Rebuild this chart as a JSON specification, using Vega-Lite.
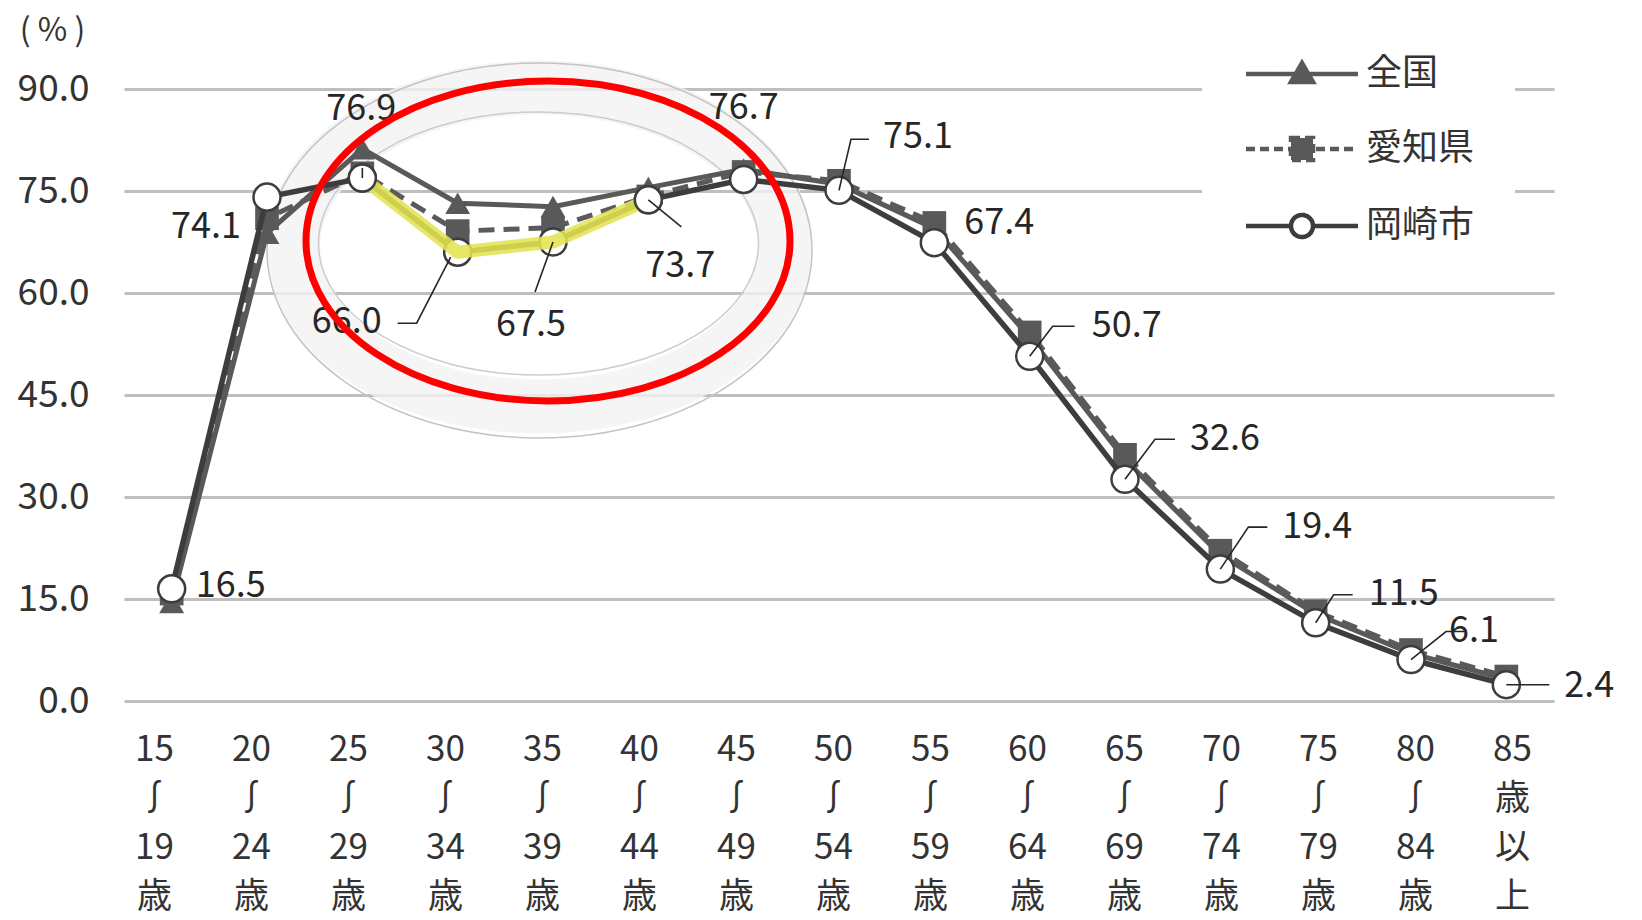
{
  "$schema": "https://vega.github.io/schema/vega-lite/v6.json",
  "autosize": {"type": "none"},
  "padding": {"left": 124, "top": 89, "right": 88, "bottom": 219},
  "width": 1430,
  "height": 612,
  "background": "white",
  "config": {
    "font": "Noto Sans CJK JP",
    "view": {"stroke": null},
    "axis": {"labelFont": "Noto Sans CJK JP", "titleFont": "Noto Sans CJK JP", "labelColor": "#333333", "domain": false, "ticks": false}
  },
  "data": {"values": [
    {"age": "15〜19歳", "series": "全国", "value": 14.5},
    {"age": "20〜24歳", "series": "全国", "value": 68.8},
    {"age": "25〜29歳", "series": "全国", "value": 81.2},
    {"age": "30〜34歳", "series": "全国", "value": 73.2},
    {"age": "35〜39歳", "series": "全国", "value": 72.7},
    {"age": "40〜44歳", "series": "全国", "value": 75.5},
    {"age": "45〜49歳", "series": "全国", "value": 78.2},
    {"age": "50〜54歳", "series": "全国", "value": 76.0},
    {"age": "55〜59歳", "series": "全国", "value": 69.5},
    {"age": "60〜64歳", "series": "全国", "value": 53.5},
    {"age": "65〜69歳", "series": "全国", "value": 35.5},
    {"age": "70〜74歳", "series": "全国", "value": 21.5},
    {"age": "75〜79歳", "series": "全国", "value": 12.8},
    {"age": "80〜84歳", "series": "全国", "value": 7.0},
    {"age": "85歳以上", "series": "全国", "value": 3.2},
    {"age": "15〜19歳", "series": "愛知県", "value": 15.8},
    {"age": "20〜24歳", "series": "愛知県", "value": 71.0},
    {"age": "25〜29歳", "series": "愛知県", "value": 77.6},
    {"age": "30〜34歳", "series": "愛知県", "value": 69.1},
    {"age": "35〜39歳", "series": "愛知県", "value": 69.6},
    {"age": "40〜44歳", "series": "愛知県", "value": 74.2},
    {"age": "45〜49歳", "series": "愛知県", "value": 77.8},
    {"age": "50〜54歳", "series": "愛知県", "value": 76.5},
    {"age": "55〜59歳", "series": "愛知県", "value": 70.3},
    {"age": "60〜64歳", "series": "愛知県", "value": 54.2},
    {"age": "65〜69歳", "series": "愛知県", "value": 36.2},
    {"age": "70〜74歳", "series": "愛知県", "value": 22.1},
    {"age": "75〜79歳", "series": "愛知県", "value": 13.2},
    {"age": "80〜84歳", "series": "愛知県", "value": 7.5},
    {"age": "85歳以上", "series": "愛知県", "value": 3.6},
    {"age": "15〜19歳", "series": "岡崎市", "value": 16.5},
    {"age": "20〜24歳", "series": "岡崎市", "value": 74.1},
    {"age": "25〜29歳", "series": "岡崎市", "value": 76.9},
    {"age": "30〜34歳", "series": "岡崎市", "value": 66.0},
    {"age": "35〜39歳", "series": "岡崎市", "value": 67.5},
    {"age": "40〜44歳", "series": "岡崎市", "value": 73.7},
    {"age": "45〜49歳", "series": "岡崎市", "value": 76.7},
    {"age": "50〜54歳", "series": "岡崎市", "value": 75.1},
    {"age": "55〜59歳", "series": "岡崎市", "value": 67.4},
    {"age": "60〜64歳", "series": "岡崎市", "value": 50.7},
    {"age": "65〜69歳", "series": "岡崎市", "value": 32.6},
    {"age": "70〜74歳", "series": "岡崎市", "value": 19.4},
    {"age": "75〜79歳", "series": "岡崎市", "value": 11.5},
    {"age": "80〜84歳", "series": "岡崎市", "value": 6.1},
    {"age": "85歳以上", "series": "岡崎市", "value": 2.4}
  ]},
  "encoding": {
    "y": {
      "field": "value", "type": "quantitative",
      "scale": {"domain": [0, 90], "nice": false, "zero": true},
      "axis": {
        "values": [0, 15, 30, 45, 60, 75, 90], "format": ".1f",
        "grid": true, "gridColor": "#bfbfbf", "gridWidth": 3,
        "labelFontSize": 37, "labelPadding": 35,
        "title": "( % )", "titleAngle": 0, "titleX": -72, "titleY": -59,
        "titleAlign": "center", "titleBaseline": "middle",
        "titleFontSize": 32, "titleFontWeight": "normal", "titleColor": "#333333"
      }
    }
  },
  "resolve": {"scale": {"x": "independent"}},
  "layer": [
    {
      "encoding": {
        "x": {
          "field": "age", "type": "ordinal",
          "scale": {"type": "point", "padding": 0.5, "domain": ["15〜19歳","20〜24歳","25〜29歳","30〜34歳","35〜39歳","40〜44歳","45〜49歳","50〜54歳","55〜59歳","60〜64歳","65〜69歳","70〜74歳","75〜79歳","80〜84歳","85歳以上"]},
          "axis": null
        }
      },
      "layer": [
        {
          "transform": [{"filter": "datum.series == '岡崎市' && datum.age == '35〜39歳'"}],
          "mark": {"type": "point", "shape": "M2.46,0C2.46,0.881 1.359,1.595 0,1.595C-1.359,1.595 -2.46,0.881 -2.46,0C-2.46,-0.881 -1.359,-1.595 0,-1.595C1.359,-1.595 2.46,-0.881 2.46,0Z", "size": 40000, "filled": false, "stroke": "#f3f3f3", "strokeWidth": 54, "opacity": 0.8, "xOffset": -14, "yOffset": 5}
        },
        {
          "transform": [{"filter": "datum.series == '岡崎市' && datum.age == '35〜39歳'"}],
          "mark": {"type": "point", "shape": "M2.725,0C2.725,1.036 1.505,1.875 0,1.875C-1.505,1.875 -2.725,1.036 -2.725,0C-2.725,-1.036 -1.505,-1.875 0,-1.875C1.505,-1.875 2.725,-1.036 2.725,0Z", "size": 40000, "filled": false, "stroke": "#c4c4c4", "strokeWidth": 1.5, "opacity": 1, "xOffset": -13.5, "yOffset": 8.5}
        },
        {
          "transform": [{"filter": "datum.series == '岡崎市' && datum.age == '35〜39歳'"}],
          "mark": {"type": "point", "shape": "M2.2,0C2.2,0.726 1.215,1.315 0,1.315C-1.215,1.315 -2.2,0.726 -2.2,0C-2.2,-0.726 -1.215,-1.315 0,-1.315C1.215,-1.315 2.2,-0.726 2.2,0Z", "size": 40000, "filled": false, "stroke": "#cccccc", "strokeWidth": 1.5, "opacity": 1, "xOffset": -14.5, "yOffset": 1.5}
        },
        {
          "transform": [{"filter": "datum.series == '全国'"}],
          "mark": {"type": "line", "color": "#595959", "strokeWidth": 5}
        },
        {
          "transform": [{"filter": "datum.series == '全国'"}],
          "mark": {"type": "point", "shape": "triangle-up", "filled": true, "color": "#595959", "size": 620, "opacity": 1}
        },
        {
          "transform": [{"filter": "datum.series == '愛知県'"}],
          "mark": {"type": "line", "color": "#5a5a5a", "strokeWidth": 5, "strokeDash": [16, 9]}
        },
        {
          "transform": [{"filter": "datum.series == '愛知県'"}],
          "mark": {"type": "point", "shape": "square", "filled": true, "color": "#595959", "size": 560, "opacity": 1}
        },
        {
          "transform": [{"filter": "datum.series == '岡崎市'"}],
          "mark": {"type": "line", "color": "#3d3d3d", "strokeWidth": 5.5}
        },
        {
          "transform": [{"filter": "datum.series == '岡崎市'"}],
          "mark": {"type": "point", "shape": "circle", "filled": true, "fill": "#ffffff", "stroke": "#3d3d3d", "strokeWidth": 2.5, "size": 730, "opacity": 1}
        },
        {
          "transform": [{"filter": "datum.series == '岡崎市' && indexof(['25〜29歳','30〜34歳','35〜39歳','40〜44歳'], datum.age) >= 0"}],
          "mark": {"type": "line", "color": "#e3e352", "strokeWidth": 13, "opacity": 0.88, "strokeCap": "round", "strokeJoin": "round"}
        },
        {
          "transform": [{"filter": "datum.series == '岡崎市' && (datum.age == '25〜29歳' || datum.age == '40〜44歳')"}],
          "mark": {"type": "point", "shape": "circle", "filled": true, "fill": "#ffffff", "stroke": "#3d3d3d", "strokeWidth": 2.5, "size": 730, "opacity": 1}
        },
        {
          "transform": [{"filter": "datum.series == '岡崎市' && indexof(['25〜29歳','30〜34歳','35〜39歳','40〜44歳','50〜54歳','60〜64歳','65〜69歳','70〜74歳','75〜79歳','80〜84歳','85歳以上'], datum.age) >= 0"}],
          "mark": {
            "type": "point", "filled": false, "stroke": "#262626", "strokeWidth": 1.6, "size": 400, "opacity": 1,
            "shape": {"expr": "['M0,0','M0,0','M0,0V-1','M-0.7,0.5L-4.1,7.1H-6','M0,0L-1.8,5','M0,0L3.3,2.7','M0,0','M0,0L1.2,-5.1H3','M0,0','M0,0L2.3,-3H4.5','M0,0L3,-4H5','M0,0L2.8,-4.2H4.7','M0,0L1.8,-2.8H3.7','M0,0L3.5,-2.8H5.3','M0,0H4.3'][indexof(['15〜19歳','20〜24歳','25〜29歳','30〜34歳','35〜39歳','40〜44歳','45〜49歳','50〜54歳','55〜59歳','60〜64歳','65〜69歳','70〜74歳','75〜79歳','80〜84歳','85歳以上'], datum.age)]"}
          }
        },
        {
          "transform": [{"filter": "datum.series == '岡崎市'"}],
          "mark": {
            "type": "text", "font": "Noto Sans CJK JP", "fontSize": 36, "color": "#262626", "align": "center", "baseline": "middle",
            "dx": {"expr": "[59,-61,-1,-111,-22,32,0,79,65,97,100,97,88,63,83][indexof(['15〜19歳','20〜24歳','25〜29歳','30〜34歳','35〜39歳','40〜44歳','45〜49歳','50〜54歳','55〜59歳','60〜64歳','65〜69歳','70〜74歳','75〜79歳','80〜84歳','85歳以上'], datum.age)]"},
            "dy": {"expr": "[-3,30,-69,70,83,66,-71,-53,-20,-30,-40,-42,-29,-29,1][indexof(['15〜19歳','20〜24歳','25〜29歳','30〜34歳','35〜39歳','40〜44歳','45〜49歳','50〜54歳','55〜59歳','60〜64歳','65〜69歳','70〜74歳','75〜79歳','80〜84歳','85歳以上'], datum.age)]"}
          },
          "encoding": {"text": {"field": "value", "type": "quantitative", "format": ".1f"}}
        },
        {
          "transform": [{"filter": "datum.series == '岡崎市' && datum.age == '35〜39歳'"}],
          "mark": {"type": "point", "shape": "M2.42,0C2.42,0.884 1.337,1.6 0,1.6C-1.337,1.6 -2.42,0.884 -2.42,0C-2.42,-0.884 -1.337,-1.6 0,-1.6C1.337,-1.6 2.42,-0.884 2.42,0Z", "size": 40000, "filled": false, "stroke": "#ff0000", "strokeWidth": 7, "opacity": 1, "xOffset": -5, "yOffset": -1}
        },
        {
          "mark": {"type": "point", "opacity": 0},
          "encoding": {
            "shape": {
              "field": "series", "type": "nominal",
              "scale": {"domain": ["全国", "愛知県", "岡崎市"], "range": [
                "M-5.6,0H5.6M0,-1.1L1.1,0.8L-1.1,0.8Z",
                "M-5.6,0H5.6M-1.1,-1.1H1.1V1.1H-1.1Z",
                "M-5.6,0H-1.1M1.1,0H5.6M1.1,0C1.1,0.61 0.61,1.1 0,1.1C-0.61,1.1 -1.1,0.61 -1.1,0C-1.1,-0.61 -0.61,-1.1 0,-1.1C0.61,-1.1 1.1,-0.61 1.1,0Z"
              ]},
              "legend": {
                "orient": "none", "legendX": 1078, "legendY": -73,
                "title": null,
                "fillColor": "#ffffff", "padding": 40,
                "labelFont": "Noto Sans CJK JP", "labelFontSize": 36, "labelColor": "#333333",
                "symbolOffset": 42, "labelOffset": 46,
                "symbolSize": 400, "symbolStrokeWidth": 4.5, "symbolOpacity": 1, "rowPadding": 37
              }
            },
            "fill": {"field": "series", "type": "nominal", "scale": {"domain": ["全国", "愛知県", "岡崎市"], "range": ["#595959", "#595959", "#ffffff"]}},
            "stroke": {"field": "series", "type": "nominal", "scale": {"domain": ["全国", "愛知県", "岡崎市"], "range": ["#595959", "#595959", "#3d3d3d"]}},
            "strokeDash": {"field": "series", "type": "nominal", "scale": {"domain": ["全国", "愛知県", "岡崎市"], "range": [[1, 0], [9, 5], [1, 0]]}}
          }
        }
      ]
    },
    {
      "transform": [{"filter": "datum.series == '岡崎市'"}],
      "mark": {"type": "point", "opacity": 0},
      "encoding": {
        "x": {
          "field": "age", "type": "ordinal",
          "scale": {"type": "point", "padding": 0.371, "domain": ["15〜19歳","20〜24歳","25〜29歳","30〜34歳","35〜39歳","40〜44歳","45〜49歳","50〜54歳","55〜59歳","60〜64歳","65〜69歳","70〜74歳","75〜79歳","80〜84歳","85歳以上"]},
          "axis": {
            "orient": "bottom", "title": null, "grid": false, "labelAngle": 0, "labelOverlap": false,
            "labelFontSize": 35, "labelLineHeight": 49, "labelPadding": 31, "labelOffset": -6,
            "labelExpr": "datum.label == '85歳以上' ? ['85','歳','以','上'] : [substring(datum.label,0,2),'∫',substring(datum.label,3,5),'歳']"
          }
        }
      }
    }
  ]
}
